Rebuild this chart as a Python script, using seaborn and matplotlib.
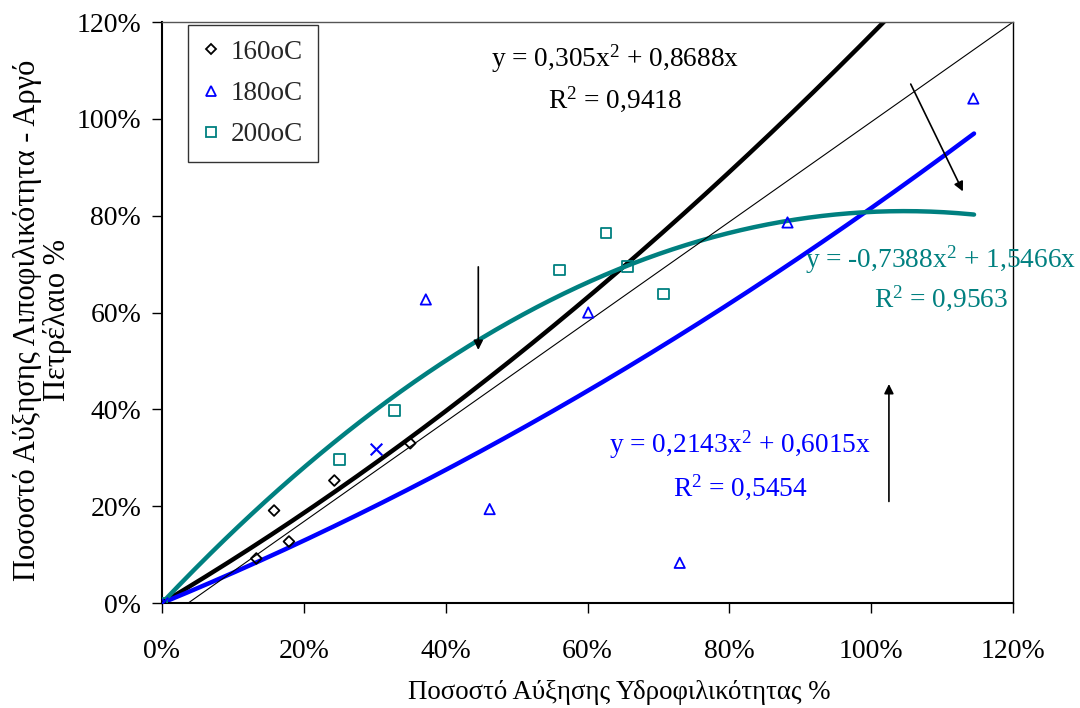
import numpy as np
import pandas as pd
import matplotlib
matplotlib.use("Agg")
import matplotlib.pyplot as plt
from matplotlib.lines import Line2D
from matplotlib.ticker import PercentFormatter
import seaborn as sns

# Measured data points (fractions: x = hydrophilicity increase, y = lipophilicity increase)
x_160 = [0.0, 0.133, 0.158, 0.179, 0.243, 0.350]
y_160 = [0.0, 0.092, 0.191, 0.127, 0.253, 0.330]

x_180 = [0.0, 0.372, 0.462, 0.601, 0.730, 0.882, 1.144]
y_180 = [0.0, 0.627, 0.194, 0.600, 0.083, 0.786, 1.042]

x_200 = [0.0, 0.250, 0.328, 0.560, 0.626, 0.656, 0.707]
y_200 = [0.0, 0.297, 0.397, 0.688, 0.764, 0.695, 0.638]

x_extra = [0.0, 0.302]
y_extra = [0.0, 0.318]

# Quadratic trendline coefficients (a*x^2 + b*x)
fit_160 = (0.305, 0.8688)
fit_180 = (0.2143, 0.6015)
fit_200 = (-0.7388, 1.5466)

eq_160 = ["y = 0,305x$^{2}$ + 0,8688x", "R$^{2}$ = 0,9418"]
eq_180 = ["y = 0,2143x$^{2}$ + 0,6015x", "R$^{2}$ = 0,5454"]
eq_200 = ["y = -0,7388x$^{2}$ + 1,5466x", "R$^{2}$ = 0,9563"]

ticks = [0.0, 0.2, 0.4, 0.6, 0.8, 1.0, 1.2]

TEAL = "#008080"
BLUE = "#0000FF"

sns.set_theme(style="white")
plt.rcParams["font.family"] = ["Liberation Serif", "DejaVu Serif"]
plt.rcParams["mathtext.fontset"] = "custom"
plt.rcParams["mathtext.rm"] = "Liberation Serif"
plt.rcParams["mathtext.it"] = "Liberation Serif:italic"
plt.rcParams["mathtext.bf"] = "Liberation Serif:bold"

fig = plt.figure(figsize=(10.8, 7.08), dpi=100)
ax = fig.add_axes([0.15, 0.1483, 0.788, 0.8206])

# Trendlines
xf = np.linspace(0, 1.145, 300)
curves = pd.DataFrame({
    "x": np.concatenate([xf, xf, xf]),
    "y": np.concatenate([fit_160[0] * xf**2 + fit_160[1] * xf,
                         fit_180[0] * xf**2 + fit_180[1] * xf,
                         fit_200[0] * xf**2 + fit_200[1] * xf]),
    "series": ["160"] * len(xf) + ["180"] * len(xf) + ["200"] * len(xf),
})
sns.lineplot(data=curves, x="x", y="y", hue="series",
             palette={"160": "black", "180": BLUE, "200": TEAL},
             linewidth=3.2, legend=False, ax=ax, sort=False, estimator=None)

# Thin reference line
ax.plot([0.037, 1.2], [0.0, 1.2], color="black", linewidth=0.8)

# Data points
def open_points(xs, ys, marker, color, size):
    sns.scatterplot(x=xs, y=ys, marker=marker, s=size, color=color,
                    linewidth=1.3, ax=ax, legend=False, zorder=5)
    coll = ax.collections[-1]
    coll.set_facecolor("none")
    coll.set_edgecolor(color)

open_points(x_160, y_160, "D", "black", 30)
open_points(x_180, y_180, "^", BLUE, 55)
open_points(x_200, y_200, "s", TEAL, 60)
sns.scatterplot(x=x_extra, y=y_extra, marker="x", s=70, color=BLUE,
                linewidth=1.5, ax=ax, legend=False, zorder=5)

ax.set_xlim(0, 1.2)
ax.set_ylim(0, 1.2)
ax.set_xticks(ticks)
ax.set_yticks(ticks)
ax.xaxis.set_major_formatter(PercentFormatter(1.0, decimals=0))
ax.yaxis.set_major_formatter(PercentFormatter(1.0, decimals=0))
ax.tick_params(axis="both", which="major", direction="out", length=7, width=1,
               labelsize=20, color="black", labelcolor="black",
               bottom=True, left=True)
ax.tick_params(axis="x", pad=19)
ax.tick_params(axis="y", pad=8)
for name, sp in ax.spines.items():
    sp.set_visible(True)
    sp.set_linewidth(1.5 if name in ("left", "bottom") else 1.0)
    sp.set_color("black" if name in ("left", "bottom", "right") else "#555555")

ax.set_xlabel("Ποσοστό Αύξησης Υδροφιλικότητας %", fontsize=19.4, color="black")
ax.xaxis.set_label_coords(0.537, -0.133)
ax.set_ylabel("Ποσοστό Αύξησης Λιποφιλικότητα - Αργό\nΠετρέλαιο %",
              fontsize=22, color="black", multialignment="center", linespacing=1.05)
ax.yaxis.set_label_coords(-0.106, 0.487)

# Trendline equations
def equation(lines, x, y1, y2, color):
    ax.text(x, y1, lines[0], color=color, fontsize=19.7, ha="center", va="center")
    ax.text(x, y2, lines[1], color=color, fontsize=19.7, ha="center", va="center")

equation(eq_160, 0.639, 1.125, 1.04, "black")
equation(eq_200, 1.098, 0.709, 0.630, TEAL)
equation(eq_180, 0.815, 0.327, 0.240, BLUE)

# Arrows
arrow_kw = dict(arrowstyle="-|>", color="black", lw=1.2, mutation_scale=14)
ax.annotate("", xy=(0.446, 0.517), xytext=(0.446, 0.700), arrowprops=arrow_kw)
ax.annotate("", xy=(1.131, 0.845), xytext=(1.054, 1.077), arrowprops=arrow_kw)
ax.annotate("", xy=(1.025, 0.458), xytext=(1.025, 0.204), arrowprops=arrow_kw)

# Legend
handles = [
    Line2D([], [], linestyle="none", marker="D", markersize=5.5, markerfacecolor="none",
           markeredgecolor="black", markeredgewidth=1.3, label="160oC"),
    Line2D([], [], linestyle="none", marker="^", markersize=7, markerfacecolor="none",
           markeredgecolor=BLUE, markeredgewidth=1.3, label="180oC"),
    Line2D([], [], linestyle="none", marker="s", markersize=7, markerfacecolor="none",
           markeredgecolor=TEAL, markeredgewidth=1.3, label="200oC"),
]
leg = ax.legend(handles=handles, loc="upper left", bbox_to_anchor=(0.031, 0.995),
                fontsize=19.5, frameon=True, fancybox=False, edgecolor="black",
                handlelength=0.6, handletextpad=0.4, labelspacing=0.6,
                borderpad=0.55, borderaxespad=0.0)
leg.get_frame().set_linewidth(1.0)

fig.savefig("out.png", dpi=100, facecolor="white")
